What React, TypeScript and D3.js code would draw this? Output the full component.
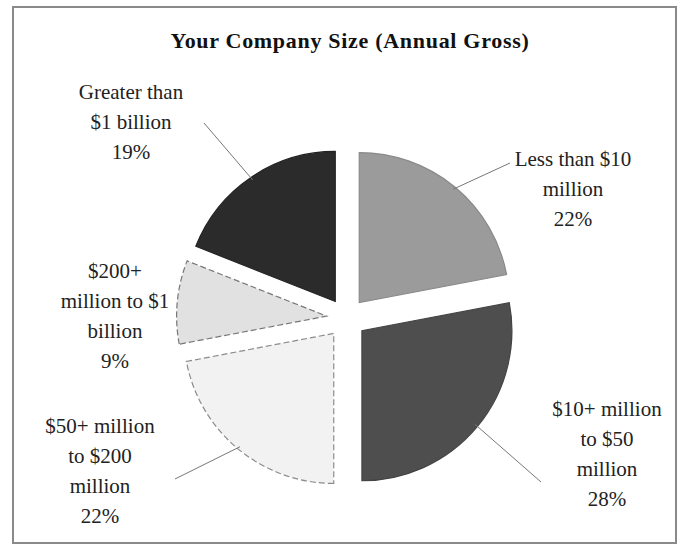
import React from "react";
import * as d3 from "d3";

const categories = [
  "Less than $10 million",
  "$10+ million to $50 million",
  "$50+ million to $200 million",
  "$200+ million to $1 billion",
  "Greater than $1 billion",
];
const values = [22, 28, 22, 9, 19];
const labelLines = [
  ["Less than $10", "million", "22%"],
  ["$10+ million", "to $50", "million", "28%"],
  ["$50+ million", "to $200", "million", "22%"],
  ["$200+", "million to $1", "billion", "9%"],
  ["Greater than", "$1 billion", "19%"],
];
const fills = ["#9b9b9b", "#4e4e4e", "#f2f2f2", "#e1e1e1", "#2b2b2b"];
const strokes = ["#8a8a8a", "#444", "#8c8c8c", "#777", "#222"];
const dashed = [false, false, true, true, false];
// label anchor positions (center of first line) and leader-line ends
const labelPos = [
  [573, 160],
  [607, 410],
  [100, 427],
  [115, 272],
  [131, 93],
];
const leaderEnd: (number[] | null)[] = [
  [510, 163],
  [541, 482],
  [175, 479],
  null,
  [204, 123],
];

export default function App() {
  const W = 688, H = 548;
  const cx = 346.5, cy = 318, r = 150, explode = 20;
  const pie = d3.pie<number>().sort(null).value((d) => d);
  const arcs = pie(values);
  const arcGen = d3.arc<d3.PieArcDatum<number>>().innerRadius(0).outerRadius(r);
  const lineH = 30;
  return (
    <svg width={W} height={H} style={{ position: "absolute", left: 0, top: 0, background: "#fff" }}>
      <rect x={13} y={7} width={663} height={536} fill="#fff" stroke="#8a8a8a" strokeWidth={2} />
      <text x={350} y={48} textAnchor="middle" fontFamily="Liberation Serif, serif" fontWeight="bold" fontSize={22} letterSpacing={0.7} fill="#111">
        Your Company Size (Annual Gross)
      </text>
      {arcs.map((a, i) => {
        const mid = (a.startAngle + a.endAngle) / 2;
        const dx = Math.sin(mid) * explode;
        const dy = -Math.cos(mid) * explode;
        const ox = cx + dx, oy = cy + dy;
        const px = ox + Math.sin(mid) * r * 0.98;
        const py = oy - Math.cos(mid) * r * 0.98;
        const le = leaderEnd[i];
        return (
          <g key={categories[i]}>
            <path
              d={arcGen(a) || ""}
              transform={`translate(${ox},${oy})`}
              fill={fills[i]}
              stroke={strokes[i]}
              strokeWidth={1.2}
              strokeDasharray={dashed[i] ? "6,3" : undefined}
            />
            {le && <line x1={px} y1={py} x2={le[0]} y2={le[1]} stroke="#777" strokeWidth={1} />}
          </g>
        );
      })}
      {labelLines.map((lines, i) => (
        <text key={i} textAnchor="middle" fontFamily="Liberation Serif, serif" fontSize={21} fill="#222">
          {lines.map((l, j) => (
            <tspan key={j} x={labelPos[i][0]} y={labelPos[i][1] + 6 + j * lineH}>
              {l}
            </tspan>
          ))}
        </text>
      ))}
    </svg>
  );
}
